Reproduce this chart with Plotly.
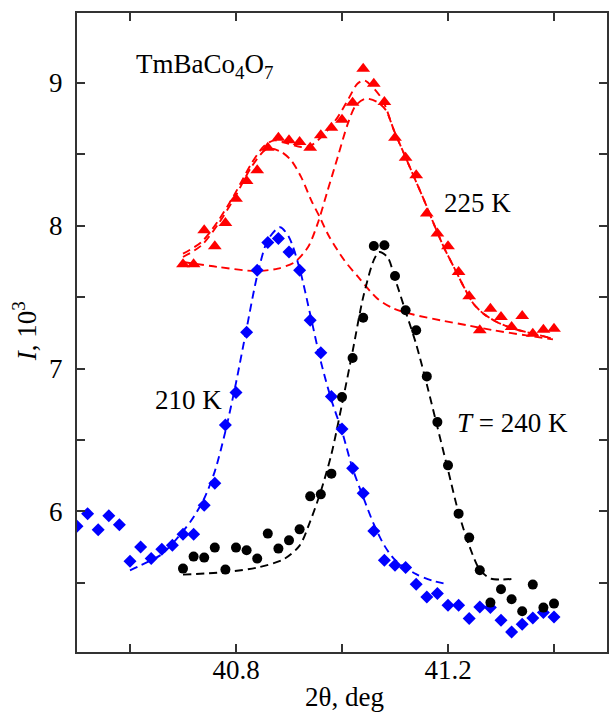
import plotly.graph_objects as go

# ---------------- data (I in units of 10^3) ----------------
x_210 = [40.50, 40.52, 40.54, 40.56, 40.58, 40.60, 40.62, 40.64, 40.66, 40.68, 40.70, 40.72,
         40.74, 40.76, 40.78, 40.80, 40.82, 40.84, 40.86, 40.88, 40.90, 40.92, 40.94, 40.96,
         40.98, 41.00, 41.02, 41.04, 41.06, 41.08, 41.10, 41.12, 41.14, 41.16, 41.18, 41.20,
         41.22, 41.24, 41.26, 41.28, 41.30, 41.32, 41.34, 41.36, 41.38, 41.40]
y_210 = [5.895, 5.984, 5.872, 5.970, 5.907, 5.650, 5.750, 5.669, 5.734, 5.762, 5.839, 5.839,
         6.042, 6.196, 6.604, 6.833, 7.254, 7.688, 7.882, 7.910, 7.816, 7.688, 7.338, 7.111,
         6.805, 6.576, 6.301, 6.126, 5.862, 5.657, 5.622, 5.606, 5.489, 5.400, 5.424, 5.342,
         5.342, 5.249, 5.330, 5.326, 5.237, 5.155, 5.209, 5.253, 5.291, 5.260]

x_240 = [40.70, 40.72, 40.74, 40.76, 40.78, 40.80, 40.82, 40.84, 40.86, 40.88, 40.90, 40.92,
         40.94, 40.96, 40.98, 41.00, 41.02, 41.04, 41.06, 41.08, 41.10, 41.12, 41.14, 41.16,
         41.18, 41.20, 41.22, 41.24, 41.26, 41.28, 41.30, 41.32, 41.34, 41.36, 41.38, 41.40]
y_240 = [5.599, 5.683, 5.676, 5.746, 5.592, 5.746, 5.727, 5.669, 5.844, 5.739, 5.797, 5.874,
         6.105, 6.119, 6.264, 6.800, 7.074, 7.356, 7.858, 7.863, 7.648, 7.408, 7.268, 6.945,
         6.625, 6.322, 5.984, 5.816, 5.587, 5.361, 5.454, 5.384, 5.300, 5.487, 5.326, 5.354]

x_225 = [40.70, 40.72, 40.74, 40.76, 40.78, 40.80, 40.82, 40.84, 40.86, 40.88, 40.90, 40.92,
         40.94, 40.96, 40.98, 41.00, 41.02, 41.04, 41.06, 41.08, 41.10, 41.12, 41.14, 41.16,
         41.18, 41.20, 41.22, 41.24, 41.26, 41.28, 41.30, 41.32, 41.34, 41.36, 41.38, 41.40]
y_225 = [7.730, 7.730, 7.968, 7.856, 8.019, 8.190, 8.313, 8.388, 8.547, 8.617, 8.598, 8.586,
         8.547, 8.633, 8.687, 8.743, 8.862, 9.100, 8.995, 8.866, 8.617, 8.477, 8.353, 8.085,
         7.945, 7.856, 7.676, 7.506, 7.268, 7.419, 7.361, 7.291, 7.368, 7.244, 7.272, 7.279]

# fitted curves
fit210_x = [40.60, 40.62, 40.66, 40.70, 40.72, 40.74, 40.76, 40.78, 40.80, 40.82, 40.84, 40.86,
            40.883, 40.90, 40.92, 40.94, 40.96, 40.98, 41.00, 41.02, 41.04, 41.06, 41.08, 41.10,
            41.14, 41.17, 41.20]
fit210_y = [5.587, 5.622, 5.700, 5.860, 5.960, 6.090, 6.280, 6.560, 6.900, 7.280, 7.650, 7.900,
            7.990, 7.920, 7.700, 7.380, 7.050, 6.780, 6.560, 6.300, 6.100, 5.910, 5.760, 5.660,
            5.560, 5.515, 5.489]

fit240_x = [40.70, 40.78, 40.84, 40.89, 40.92, 40.94, 40.96, 40.98, 41.00, 41.02, 41.04, 41.06,
            41.07, 41.086, 41.10, 41.12, 41.14, 41.16, 41.18, 41.20, 41.22, 41.24, 41.26, 41.28,
            41.30, 41.326]
fit240_y = [5.557, 5.575, 5.606, 5.665, 5.760, 5.930, 6.140, 6.400, 6.750, 7.120, 7.500, 7.760,
            7.816, 7.780, 7.630, 7.400, 7.170, 6.890, 6.590, 6.290, 5.990, 5.760, 5.590, 5.530,
            5.522, 5.529]

fit225_tot_x = [40.70, 40.735, 40.767, 40.798, 40.829, 40.854, 40.873, 40.898, 40.923, 40.942,
                40.967, 40.992, 41.014, 41.029, 41.042, 41.058, 41.077, 41.098, 41.117, 41.136,
                41.155, 41.173, 41.192, 41.211, 41.230, 41.248, 41.267, 41.292, 41.323, 41.361,
                41.398]
fit225_tot_y = [7.805, 7.886, 8.038, 8.225, 8.435, 8.563, 8.598, 8.575, 8.552, 8.563,
                8.645, 8.761, 8.901, 8.995, 9.018, 8.971, 8.878, 8.668, 8.505, 8.341,
                8.178, 8.015, 7.851, 7.711, 7.571, 7.454, 7.384, 7.326, 7.279, 7.244,
                7.209]

fit225_p1_x = [40.70, 40.735, 40.767, 40.798, 40.829, 40.854, 40.867, 40.886, 40.904, 40.923,
               40.942, 40.958, 40.975, 41.004, 41.032, 41.067, 41.098, 41.136, 41.186, 41.236,
               41.286, 41.348, 41.398]
fit225_p1_y = [7.781, 7.863, 8.015, 8.201, 8.411, 8.528, 8.540, 8.516, 8.458, 8.341,
               8.178, 8.061, 7.930, 7.760, 7.635, 7.489, 7.419, 7.377, 7.338, 7.303,
               7.268, 7.232, 7.204]

fit225_p2_x = [40.70, 40.767, 40.836, 40.879, 40.911, 40.936, 40.954, 40.973, 40.992, 41.011,
               41.026, 41.045, 41.067, 41.083, 41.098, 41.117, 41.136, 41.155, 41.173, 41.192,
               41.211, 41.230, 41.248, 41.267, 41.292, 41.323, 41.361, 41.398]
fit225_p2_y = [7.746, 7.711, 7.683, 7.700, 7.746, 7.851, 8.015, 8.248, 8.482, 8.715,
               8.843, 8.890, 8.866, 8.808, 8.668, 8.505, 8.341, 8.178, 8.015, 7.851,
               7.711, 7.571, 7.454, 7.384, 7.326, 7.279, 7.244, 7.209]

x_tickvals = [40.6, 40.8, 41.0, 41.2, 41.4]
x_ticktext = ["", "40.8", "", "41.2", ""]
y_tickvals = [5.5, 6, 6.5, 7, 7.5, 8, 8.5, 9]
y_ticktext = ["", "6", "", "7", "", "8", "", "9"]

RED = "#ff0000"
BLUE = "#0000ff"
BLACK = "#000000"
FONT = "Liberation Serif, Times New Roman, serif"
DASH = "8px,5px"

fig = go.Figure()

def fit_line(xs, ys, color):
    fig.add_trace(go.Scatter(x=xs, y=ys, mode="lines",
                             line=dict(color=color, width=1.9, dash=DASH,
                                       shape="spline", smoothing=0.8),
                             hoverinfo="skip", showlegend=False))

fit_line(fit225_p1_x, fit225_p1_y, RED)
fit_line(fit225_p2_x, fit225_p2_y, RED)
fit_line(fit225_tot_x, fit225_tot_y, RED)
fit_line(fit210_x, fit210_y, BLUE)
fit_line(fit240_x, fit240_y, BLACK)

fig.add_trace(go.Scatter(x=x_225, y=y_225, mode="markers",
                         marker=dict(symbol="triangle-up", size=12, color=RED),
                         showlegend=False))
fig.add_trace(go.Scatter(x=x_210, y=y_210, mode="markers",
                         marker=dict(symbol="diamond", size=10, color=BLUE),
                         showlegend=False))
fig.add_trace(go.Scatter(x=x_240, y=y_240, mode="markers",
                         marker=dict(symbol="circle", size=10, color=BLACK),
                         showlegend=False))

axis_common = dict(showline=True, linewidth=2, linecolor="#333333", mirror="ticks",
                   ticks="inside", ticklen=8, tickwidth=1.5, tickcolor="#333333",
                   showgrid=False, zeroline=False,
                   tickfont=dict(family=FONT, size=27, color=BLACK))

fig.update_xaxes(range=[40.5, 41.5], tickmode="array", tickvals=x_tickvals,
                 ticktext=x_ticktext, ticklabelstandoff=-7, **axis_common)
fig.update_yaxes(range=[5.015, 9.49], tickmode="array", tickvals=y_tickvals,
                 ticktext=y_ticktext, ticklabelstandoff=7, **axis_common)

def note(text, x, y, xanchor="center", angle=0):
    fig.add_annotation(text=text, xref="paper", yref="paper", x=x, y=y,
                       xanchor=xanchor, yanchor="middle", showarrow=False,
                       textangle=angle,
                       font=dict(family=FONT, size=27, color=BLACK))

note("TmBaCo<sub>4</sub>O<sub>7</sub>", 0.108, 0.917, xanchor="left")
note("225 K", 0.756, 0.703)
note("210 K", 0.2105, 0.394)
note("<i>T</i> = 240 K", 0.821, 0.358)
note("2θ, deg", 0.504, -0.0705)
note("<i>I</i>, 10<sup>3</sup>", -0.098, 0.502, angle=-90)

fig.update_layout(width=613, height=712,
                  margin=dict(l=77, r=4, t=13, b=60),
                  paper_bgcolor="white", plot_bgcolor="white",
                  showlegend=False)

fig.write_html("out.html")
